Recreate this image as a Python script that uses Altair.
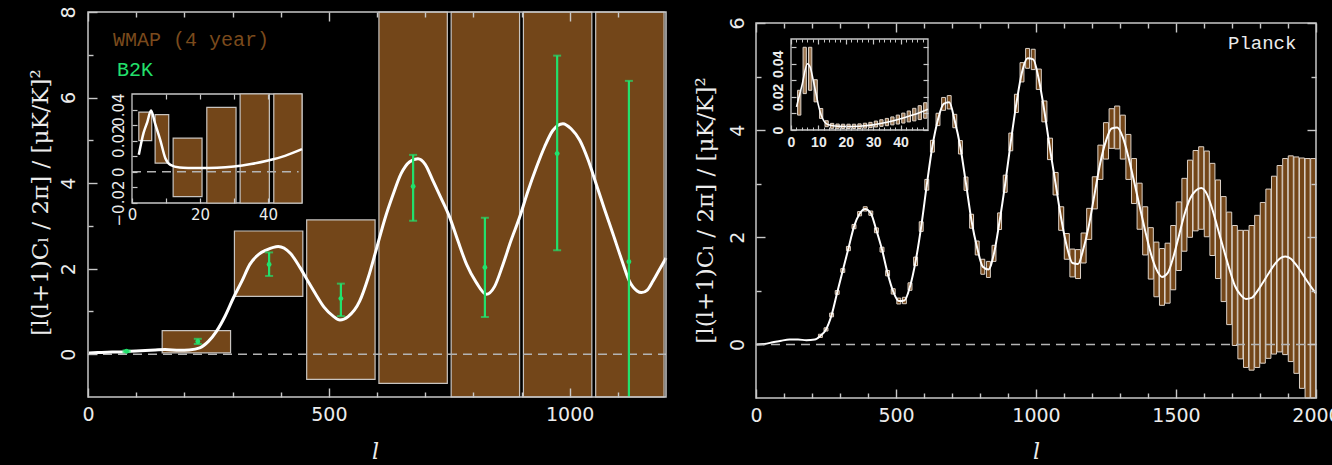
import altair as alt
import pandas as pd

# ================= data =================
# axis domains
L_XDOM = [0, 1200]
L_YDOM = [-1, 8]
LI_XDOM = [0, 50]
LI_YDOM = [-0.02, 0.05]
R_XDOM = [0, 2000]
R_YDOM = [-1, 6]
RI_XDOM = [0, 50]
RI_YDOM = [0, 0.055]

# tick values
L_X_MAJOR = [0, 500, 1000]
L_X_MINOR = [100, 200, 300, 400, 600, 700, 800, 900, 1100]
L_Y_MAJOR = [0, 2, 4, 6, 8]
L_Y_MINOR = [1, 3, 5, 7]
LI_X_TICKS = [0, 10, 20, 30, 40]
LI_Y_TICKS = [-0.02, -0.01, 0, 0.01, 0.02, 0.03, 0.04]
R_X_MAJOR = [0, 500, 1000, 1500, 2000]
R_X_MINOR = [100, 200, 300, 400, 600, 700, 800, 900, 1100, 1200, 1300, 1400,
             1600, 1700, 1800, 1900]
R_Y_MAJOR = [0, 2, 4, 6]
R_Y_MINOR = [1, 3, 5]
RI_X_MAJOR = [0, 10, 20, 30, 40]
RI_X_MINOR = [2, 4, 6, 8, 12, 14, 16, 18, 22, 24, 26, 28, 32, 34, 36, 38, 42, 44, 46, 48]
RI_Y_TICKS = [0, 0.01, 0.02, 0.03, 0.04, 0.05]

# left panel: WMAP (4 year) boxes
wmap_l_lo = [150, 300, 450, 600, 750, 900, 1050]
wmap_l_hi = [300, 450, 600, 750, 900, 1050, 1200]
wmap_lo = [0.03, 1.35, -0.59, -0.68, -1.6, -2.0, -2.4]
wmap_hi = [0.55, 2.88, 3.14, 8.6, 9.4, 10.2, 11.0]

# left panel: B2K points
b2k_l = [80, 228, 376, 525, 675, 824, 974, 1123]
b2k_v = [0.07, 0.30, 2.10, 1.30, 3.92, 2.03, 4.69, 2.16]
b2k_lo = [0.05, 0.24, 1.83, 0.89, 3.12, 0.87, 2.43, -1.6]
b2k_hi = [0.09, 0.36, 2.38, 1.65, 4.66, 3.19, 6.98, 6.39]

# left panel: model curve
curveL_l = [2, 20, 50, 80, 110, 140, 160, 190, 210, 232,
            250, 267, 285, 302, 320, 336, 355, 371, 395, 420,
            440, 457, 474, 490, 509, 523, 540, 564, 582, 599,
            616, 633, 650, 668, 685, 700, 716, 733, 751, 768,
            786, 806, 827, 844, 861, 878, 896, 913, 931, 948,
            965, 986, 1003, 1021, 1038, 1055, 1072, 1090, 1107, 1124,
            1140, 1149, 1161, 1173, 1185, 1200]
curveL_v = [0.03, 0.04, 0.05, 0.06, 0.08, 0.10, 0.11, 0.09, 0.10, 0.15,
            0.30, 0.54, 0.90, 1.32, 1.72, 2.10, 2.34, 2.44, 2.52, 2.36,
            2.03, 1.70, 1.38, 1.10, 0.89, 0.80, 0.88, 1.24, 1.80, 2.47,
            3.15, 3.72, 4.22, 4.50, 4.57, 4.44, 4.06, 3.65, 3.20, 2.65,
            2.10, 1.68, 1.40, 1.58, 2.08, 2.65, 3.20, 3.80, 4.37, 4.85,
            5.23, 5.39, 5.27, 5.00, 4.55, 3.98, 3.40, 2.81, 2.24, 1.71,
            1.48, 1.44, 1.50, 1.71, 1.95, 2.25]

# left inset
insL_l_lo = [2.0, 6.8, 12.1, 22.0, 31.8, 41.7]
insL_l_hi = [5.8, 10.8, 20.6, 30.6, 40.4, 50.5]
insL_lo = [0.0201, 0.0056, -0.0159, -0.030, -0.040, -0.045]
insL_hi = [0.0384, 0.0367, 0.0217, 0.0414, 0.070, 0.075]
insL_curve_l = [2, 3.4, 4.5, 5.6, 6.8, 8.3, 9.8, 11.3, 14, 17, 20, 25, 30, 35, 40, 45, 50]
insL_curve_v = [0.011, 0.025, 0.032, 0.0394, 0.031, 0.0206, 0.0088, 0.0045, 0.0028,
                0.0025, 0.0024, 0.0026, 0.0034, 0.0050, 0.0073, 0.0103, 0.0146]

# right panel: Planck boxes (bin centre, value, half height)
planck_l = list(range(230, 2000, 20))
planck_v = [0.16, 0.28, 0.55, 0.97, 1.38, 1.79, 2.20, 2.44, 2.53, 2.45,
            2.13, 1.77, 1.33, 0.99, 0.81, 0.82, 1.08, 1.55, 2.20, 2.98,
            3.70, 4.20, 4.49, 4.52, 4.17, 3.68, 3.00, 2.30, 1.80, 1.45,
            1.40, 1.70, 2.30, 3.00, 3.78, 4.50, 5.08, 5.34, 5.32, 4.95,
            4.35, 3.65, 3.00, 2.35, 1.83, 1.52, 1.50, 1.80, 2.25, 2.83,
            3.40, 3.80, 4.03, 4.05, 3.87, 3.50, 3.05, 2.58, 2.12, 1.70,
            1.40, 1.26, 1.33, 1.62, 2.02, 2.42, 2.72, 2.87, 2.92, 2.81,
            2.52, 2.15, 1.78, 1.42, 1.10, 0.93, 0.85, 0.87, 0.99, 1.15,
            1.32, 1.48, 1.60, 1.64, 1.60, 1.48, 1.33, 1.17, 1.02]
planck_err = [0.03, 0.03, 0.035, 0.035, 0.035, 0.04, 0.04, 0.04, 0.04, 0.04,
              0.045, 0.045, 0.05, 0.05, 0.055, 0.06, 0.07, 0.08, 0.09, 0.10,
              0.11, 0.115, 0.12, 0.125, 0.125, 0.125, 0.125, 0.13, 0.13, 0.14,
              0.15, 0.15, 0.155, 0.16, 0.165, 0.17, 0.18, 0.185, 0.19, 0.19,
              0.195, 0.20, 0.21, 0.22, 0.24, 0.26, 0.27, 0.28, 0.29, 0.30,
              0.32, 0.34, 0.37, 0.40, 0.41, 0.42, 0.42, 0.43, 0.45, 0.48,
              0.51, 0.53, 0.56, 0.60, 0.64, 0.68, 0.72, 0.75, 0.77, 0.80,
              0.86, 0.92, 0.98, 1.05, 1.12, 1.20, 1.28, 1.35, 1.42, 1.50,
              1.58, 1.66, 1.74, 1.83, 1.92, 2.02, 2.15, 2.30, 2.45]

# right panel: model curve (low-l part; above that it runs through the box centres)
curveR_low_l = [2, 30, 60, 90, 120, 150, 180, 210]
curveR_low_v = [0.0, 0.01, 0.04, 0.07, 0.09, 0.09, 0.08, 0.09]
curveR_end_l = [2000]
curveR_end_v = [0.95]

# right inset
insR_l = list(range(3, 50, 2))
insR_v = [0.0165, 0.036, 0.037, 0.0237, 0.010, 0.0038, 0.0025, 0.0023, 0.0022, 0.0022,
          0.0022, 0.0023, 0.0026, 0.0030, 0.0036, 0.0042, 0.0048, 0.0055, 0.0063, 0.0072,
          0.0082, 0.0093, 0.0105, 0.0118]
insR_err = [0.0075, 0.014, 0.013, 0.0067, 0.003, 0.0018, 0.0015, 0.0013, 0.0013, 0.0013,
            0.0013, 0.0014, 0.0015, 0.0016, 0.0018, 0.0020, 0.0022, 0.0024, 0.0027, 0.0030,
            0.0033, 0.0038, 0.0042, 0.0047]
insR_curve_l = [2, 4, 6, 7, 8, 9, 10, 11, 12, 13, 14, 16, 20, 25, 30, 35, 40, 45, 50]
insR_curve_v = [0.014, 0.027, 0.040, 0.038, 0.031, 0.023, 0.015, 0.009, 0.0055, 0.0037,
                0.0030, 0.0024, 0.0021, 0.0023, 0.0031, 0.0047, 0.0068, 0.0093, 0.0126]

# ================= styling =================
FRAME = '#c8c8c8'
LABEL = '#ececec'
BROWN = '#734619'
BAR_STROKE = '#c8c4c0'
BOX_STROKE = '#dcd2c8'
GREEN = '#22e06c'
DASH = '#b4b4b4'
TICKFONT = 'DejaVu Sans'
SERIF = 'DejaVu Serif'
MONO = 'Liberation Mono'
YTITLE = '[l(l+1)C\u2097   /   2\u03c0]   /   [\u03bcK/K]\u00b2'


def S(dom, rng):
    return alt.Scale(domain=dom, range=rng, nice=False, zero=False, clamp=True)


LX, LY = S(L_XDOM, [0, 578]), S(L_YDOM, [385, 0])
LIX, LIY = S(LI_XDOM, [44, 214]), S(LI_YDOM, [191, 82])
RX, RY = S(R_XDOM, [668, 1228]), S(R_YDOM, [386, 11])
RIX, RIY = S(RI_XDOM, [703, 840]), S(RI_YDOM, [118, 27])


def frame_df(xd, yd):
    return pd.DataFrame({'x0': [xd[0]], 'x1': [xd[1]], 'y0': [yd[0]], 'y1': [yd[1]]})


def rects(df, xs, ys, **mark):
    return alt.Chart(df).mark_rect(**mark).encode(
        x=alt.X('x0:Q', scale=xs, axis=None), x2='x1:Q',
        y=alt.Y('y0:Q', scale=ys, axis=None), y2='y1:Q')


def curve(df, xs, ys, **mark):
    return alt.Chart(df).mark_line(interpolate='monotone', **mark).encode(
        x=alt.X('l:Q', scale=xs, axis=None), y=alt.Y('v:Q', scale=ys, axis=None))


def zero_line(xd, xs, ys):
    df = pd.DataFrame({'x0': [xd[0]], 'x1': [xd[1]], 'y0': [0]})
    return alt.Chart(df).mark_rule(color=DASH, strokeWidth=1.5, strokeDash=[9, 6]).encode(
        x=alt.X('x0:Q', scale=xs, axis=None), x2='x1:Q',
        y=alt.Y('y0:Q', scale=ys, axis=None))


def AX(orient, values, size, offset, **kw):
    d = dict(orient=orient, values=values, tickSize=size, offset=offset, domain=False,
             grid=False, ticks=True, tickColor=FRAME, tickWidth=1.4, labels=False,
             title=None, zindex=3)
    d.update(kw)
    return alt.Axis(**d)


def axis_layer(fdf, xs, ys, xaxis=None, yaxis=None):
    return alt.Chart(fdf).mark_point(opacity=0).encode(
        x=alt.X('x0:Q', scale=xs, axis=xaxis),
        y=alt.Y('y0:Q', scale=ys, axis=yaxis))


XLAB = dict(labels=True, format='d', labelFont=TICKFONT, labelFontSize=19, labelColor=LABEL,
            labelPadding=8, labelFlush=False, labelOverlap=False, labelAngle=0,
            labelAlign='center', labelBaseline='top')
YLAB = dict(labels=True, format='d', labelFont=TICKFONT, labelFontSize=19, labelColor=LABEL,
            labelFlush=False, labelOverlap=False, labelAngle=270,
            labelAlign='center', labelBaseline='middle')
XT = dict(titleFont=SERIF, titleFontStyle='italic', titleFontSize=22, titleFontWeight='normal',
          titleColor=LABEL, titleAlign='center', titleBaseline='middle', titleAngle=0)
YT = dict(titleFont=SERIF, titleFontSize=23, titleFontWeight='normal', titleColor=LABEL,
          titleAngle=270, titleAlign='center', titleBaseline='middle')

# ================= data frames =================
wmap = pd.DataFrame({'x0': [a + 4 for a in wmap_l_lo], 'x1': [b - 4 for b in wmap_l_hi],
                     'y0': wmap_lo, 'y1': wmap_hi})
b2k = pd.DataFrame({'l': b2k_l, 'v': b2k_v, 'lo': b2k_lo, 'hi': b2k_hi})
caps = pd.DataFrame({'l': b2k_l + b2k_l, 'v': b2k_lo + b2k_hi})
caps = caps[caps['v'] >= L_YDOM[0]]
cL = pd.DataFrame({'l': curveL_l, 'v': curveL_v})
insL = pd.DataFrame({'x0': insL_l_lo, 'x1': insL_l_hi, 'y0': insL_lo, 'y1': insL_hi})
cLI = pd.DataFrame({'l': insL_curve_l, 'v': insL_curve_v})

pk = pd.DataFrame({'l': planck_l, 'v': planck_v, 'e': planck_err})
pk['hw'] = [7 if l < 1000 else 9 for l in planck_l]
pk['x0'] = pk['l'] - pk['hw']
pk['x1'] = pk['l'] + pk['hw']
pk['y0'] = pk['v'] - pk['e']
pk['y1'] = pk['v'] + pk['e']
cR = pd.DataFrame({'l': curveR_low_l + planck_l + curveR_end_l,
                   'v': curveR_low_v + planck_v + curveR_end_v})
ri = pd.DataFrame({'l': insR_l, 'v': insR_v, 'e': insR_err})
ri['x0'] = ri['l'] - 0.6
ri['x1'] = ri['l'] + 0.6
ri['y0'] = ri['v'] - ri['e']
ri['y1'] = ri['v'] + ri['e']
cRI = pd.DataFrame({'l': insR_curve_l, 'v': insR_curve_v})

fL = frame_df(L_XDOM, L_YDOM)
fLI = frame_df(LI_XDOM, LI_YDOM)
fR = frame_df(R_XDOM, R_YDOM)
fRI = frame_df(RI_XDOM, RI_YDOM)

# ================= layers =================
layers = []
# ---- left panel
layers.append(rects(wmap, LX, LY, fill=BROWN, stroke=BAR_STROKE, strokeWidth=1.2))
layers.append(rects(fLI, LIX, LIY, fill='#000000', stroke=FRAME, strokeWidth=1.3))
layers.append(rects(insL, LIX, LIY, fill=BROWN, stroke=BAR_STROKE, strokeWidth=1.2))
layers.append(zero_line([0, 49], LIX, LIY))
layers.append(curve(cLI, LIX, LIY, color='#ffffff', strokeWidth=2.5))
layers.append(zero_line(L_XDOM, LX, LY))
layers.append(curve(cL, LX, LY, color='#ffffff', strokeWidth=3))
layers.append(alt.Chart(b2k).mark_rule(color=GREEN, strokeWidth=2.2).encode(
    x=alt.X('l:Q', scale=LX, axis=None), y=alt.Y('lo:Q', scale=LY, axis=None), y2='hi:Q'))
layers.append(alt.Chart(caps).mark_tick(orient='horizontal', size=8, thickness=2, color=GREEN).encode(
    x=alt.X('l:Q', scale=LX, axis=None), y=alt.Y('v:Q', scale=LY, axis=None)))
layers.append(alt.Chart(b2k).mark_circle(size=24, color=GREEN, opacity=1).encode(
    x=alt.X('l:Q', scale=LX, axis=None), y=alt.Y('v:Q', scale=LY, axis=None)))
layers.append(rects(fL, LX, LY, fillOpacity=0, stroke=FRAME, strokeWidth=1.5))
layers.append(alt.Chart(fL).mark_text(text='WMAP (4 year)', font=MONO, fontSize=20, color='#7a4a1c',
                                      align='left', baseline='middle').encode(
    x=alt.value(25), y=alt.value(28)))
layers.append(alt.Chart(fL).mark_text(text='B2K', font=MONO, fontSize=20, color=GREEN,
                                      align='left', baseline='middle').encode(
    x=alt.value(29), y=alt.value(58)))

# ---- right panel
layers.append(rects(pk, RX, RY, fill=BROWN, stroke=BOX_STROKE, strokeWidth=1))
layers.append(zero_line(R_XDOM, RX, RY))
layers.append(curve(cR, RX, RY, color='#ffffff', strokeWidth=2))
layers.append(rects(fRI, RIX, RIY, fill='#000000', stroke=FRAME, strokeWidth=1.3))
layers.append(rects(ri, RIX, RIY, fill='#9c7650', stroke=BOX_STROKE, strokeWidth=1))
layers.append(curve(cRI, RIX, RIY, color='#ffffff', strokeWidth=1.6))
layers.append(rects(fR, RX, RY, fillOpacity=0, stroke=FRAME, strokeWidth=1.5))
layers.append(alt.Chart(fR).mark_text(text='Planck', font=MONO, fontSize=19, color=LABEL,
                                      align='left', baseline='middle').encode(
    x=alt.value(1140), y=alt.value(31)))

# ---- axes: left panel
layers.append(axis_layer(
    fL, LX, LY,
    AX('bottom', L_X_MAJOR, 9, -10, title='l', titleX=287, titleY=63, **XLAB, **XT),
    AX('left', L_Y_MAJOR, 9, -9, labelPadding=20, title=YTITLE, titleX=-57, titleY=190,
       **YLAB, **YT)))
layers.append(axis_layer(fL, LX, LY, AX('bottom', L_X_MINOR, 5, -6), AX('left', L_Y_MINOR, 5, -5)))
layers.append(axis_layer(fL, LX, LY, AX('top', L_X_MAJOR, 9, -9)))
layers.append(axis_layer(fL, LX, LY, AX('top', L_X_MINOR, 5, -5)))
# ---- axes: left inset
layers.append(axis_layer(
    fLI, LIX, LIY,
    AX('bottom', LI_X_TICKS, 5, -200, tickWidth=1.2, labels=True, format='d',
       labelExpr="datum.value % 20 == 0 ? datum.label : ''", labelFont=TICKFONT,
       labelFontSize=15, labelColor=LABEL, labelPadding=4, labelFlush=False,
       labelOverlap=False, labelAngle=0, labelAlign='center', labelBaseline='top'),
    AX('left', LI_Y_TICKS, 5, -49, tickWidth=1.2, labels=True, format='.2~f',
       labelExpr="abs(round(datum.value * 100)) % 2 == 0 ? datum.label : ''",
       labelFont=TICKFONT, labelFontSize=15, labelColor=LABEL, labelPadding=14,
       labelFlush=False, labelOverlap=False, labelAngle=270, labelAlign='center',
       labelBaseline='middle')))
layers.append(axis_layer(fLI, LIX, LIY, AX('top', [10, 20, 30, 40], 5, -87, tickWidth=1.2)))
# ---- axes: right panel
layers.append(axis_layer(
    fR, RX, RY,
    AX('bottom', R_X_MAJOR, 9, -9, title='l', titleX=948, titleY=62, **XLAB, **XT),
    AX('left', R_Y_MAJOR, 9, -677, labelPadding=19, title=YTITLE, titleX=-60, titleY=198,
       **YLAB, **YT)))
layers.append(axis_layer(fR, RX, RY, AX('bottom', R_X_MINOR, 5, -5), AX('left', R_Y_MINOR, 5, -673)))
layers.append(axis_layer(fR, RX, RY, AX('top', R_X_MAJOR, 9, -20), AX('right', R_Y_MAJOR, 9, -9)))
layers.append(axis_layer(fR, RX, RY, AX('top', R_X_MINOR, 5, -16), AX('right', R_Y_MINOR, 5, -5)))
# ---- axes: right inset
layers.append(axis_layer(
    fRI, RIX, RIY,
    AX('bottom', RI_X_MAJOR, 5, -273, tickWidth=1.2, labels=True, format='d',
       labelFont='Liberation Sans', labelFontWeight='bold', labelFontSize=14, labelColor=LABEL,
       labelPadding=5, labelFlush=False, labelOverlap=False, labelAngle=0,
       labelAlign='center', labelBaseline='top'),
    AX('left', RI_Y_TICKS, 5, -708, tickWidth=1.2, labels=True, format='.2~f',
       labelExpr="abs(round(datum.value * 100)) % 2 == 0 ? datum.label : ''",
       labelFont='Liberation Sans', labelFontWeight='bold', labelFontSize=14, labelColor=LABEL,
       labelPadding=13, labelFlush=False, labelOverlap=False, labelAngle=270,
       labelAlign='center', labelBaseline='middle')))
layers.append(axis_layer(fRI, RIX, RIY, AX('bottom', RI_X_MINOR, 3, -271, tickWidth=1),
                         AX('right', RI_Y_TICKS, 5, -393, tickWidth=1.2)))
layers.append(axis_layer(fRI, RIX, RIY, AX('top', RI_X_MAJOR, 5, -32, tickWidth=1.2)))
layers.append(axis_layer(fRI, RIX, RIY, AX('top', RI_X_MINOR, 3, -30, tickWidth=1)))

chart = alt.layer(*layers).resolve_scale(
    x='independent', y='independent'
).resolve_axis(
    x='independent', y='independent'
).properties(
    width=1228, height=386,
    autosize=alt.AutoSizeParams(type='none'),
    padding={'left': 88, 'top': 12, 'right': 16, 'bottom': 67},
    background='#000000',
).configure_view(stroke='transparent')

chart.save('out.html', embed_options={'renderer': 'svg', 'actions': False})
